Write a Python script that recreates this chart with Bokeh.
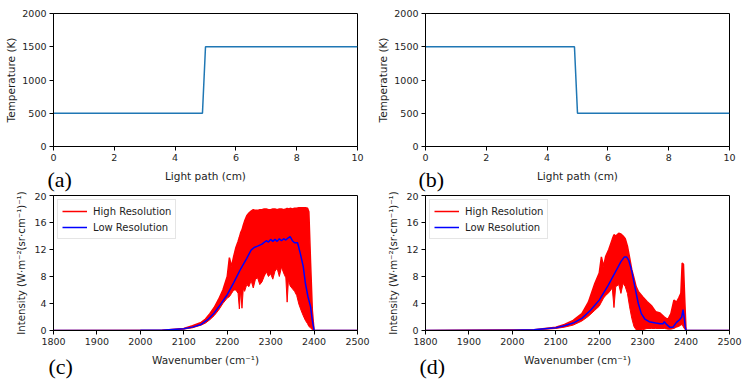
from bokeh.plotting import figure
from bokeh.models import Range1d, FixedTicker, Legend, LegendItem, Title
from bokeh.layouts import column, row
from bokeh.embed import file_html
from bokeh.resources import INLINE

# ---------------- data ----------------
# temperature profiles along the light path
path_a = [0, 4.9, 5.0, 10]
temp_a = [500, 500, 1500, 1500]
path_b = [0, 4.9, 5.0, 10]
temp_b = [1500, 1500, 500, 500]

# panel (c): high-resolution envelope (upper / lower) and low-resolution curve
wn_hr_c = [1800, 2050, 2100, 2120, 2140, 2150, 2160, 2170, 2180, 2190, 2200, 2205, 2210,
           2215, 2220, 2225, 2228, 2231, 2234, 2237, 2240, 2245, 2250, 2255, 2260, 2265,
           2270, 2275, 2280, 2285, 2290, 2295, 2300, 2305, 2310, 2315, 2320, 2325, 2330,
           2335, 2338, 2341, 2345, 2350, 2355, 2360, 2365, 2370, 2375, 2380, 2385, 2388,
           2392, 2396, 2400, 2500]
hr_up_c = [0, 0.05, 0.3, 0.7, 1.2, 1.7, 2.5, 3.4, 4.6, 6.0, 8.0, 10.8, 9.5,
           11.0, 12.3, 13.2, 13.8, 14.5, 14.9, 15.6, 16.2, 17.0, 17.4, 17.7, 17.9, 17.8,
           17.8, 17.9, 17.9, 18.0, 18.0, 17.9, 17.9, 18.0, 18.0, 17.9, 18.0, 18.0, 17.9,
           18.0, 18.1, 18.0, 18.1, 18.0, 18.1, 18.1, 18.2, 18.2, 18.2, 18.2, 18.1, 17.6,
           10.0, 3.0, 0, 0]
hr_lo_c = [0, 0.03, 0.2, 0.4, 0.8, 1.1, 1.6, 2.2, 3.0, 4.0, 4.8, 5.0, 5.5,
           6.0, 6.0, 5.5, 3.2, 6.0, 3.3, 6.2, 5.8, 6.8, 6.5, 7.4, 6.3, 7.6,
           7.8, 6.8, 7.2, 8.0, 8.7, 8.0, 8.4, 7.6, 8.8, 9.2, 8.0, 9.4, 8.5,
           7.8, 4.2, 7.5, 6.6, 6.2, 5.8, 5.2, 3.9, 3.0, 2.2, 1.5, 1.0, 0.6,
           0.4, 0.1, 0, 0]
wn_lr_c = [1800, 2000, 2050, 2100, 2120, 2140, 2155, 2170, 2185, 2200, 2215, 2230, 2245,
           2255, 2262, 2270, 2280, 2290, 2295, 2300, 2305, 2310, 2315, 2320, 2325, 2330,
           2335, 2340, 2345, 2350, 2355, 2362, 2368, 2375, 2380, 2386, 2392, 2396, 2400, 2500]
lr_c = [0, 0.02, 0.05, 0.25, 0.5, 0.9, 1.6, 2.6, 3.9, 5.3, 7.1, 9.0, 10.7,
        11.9, 12.3, 12.5, 12.8, 13.3, 13.1, 13.5, 13.2, 13.5, 13.2, 13.6, 13.3, 13.6,
        13.4, 13.7, 13.9, 13.3, 13.0, 13.0, 11.5, 9.5, 7.0, 5.0, 3.5, 1.5, 0, 0]

# panel (d)
wn_hr_d = [1800, 2050, 2100, 2120, 2140, 2160, 2175, 2190, 2200, 2205, 2210, 2215, 2222,
           2230, 2234, 2238, 2245, 2250, 2255, 2260, 2265, 2270, 2275, 2280, 2285, 2290,
           2300, 2310, 2320, 2330, 2340, 2350, 2358, 2365, 2372, 2378, 2383, 2388, 2391,
           2394, 2397, 2400, 2500]
hr_up_d = [0, 0.1, 0.5, 0.9, 1.5, 2.5, 4.2, 7.0, 8.5, 10.9, 9.5, 11.0, 12.0,
           13.5, 14.2, 14.0, 14.4, 14.3, 14.0, 13.6, 12.5, 10.8, 9.0, 7.8, 6.5, 5.8,
           5.0, 4.3, 3.7, 2.8, 2.6, 2.0, 1.6, 2.5, 4.5, 4.2, 4.8, 5.5, 10.0,
           9.8, 4.5, 0, 0]
hr_lo_d = [0, 0.05, 0.3, 0.5, 0.8, 1.4, 2.1, 3.0, 3.6, 4.2, 4.8, 5.2, 5.6,
           6.3, 3.4, 6.5, 6.8, 5.5, 7.0, 6.5, 5.5, 3.5, 1.8, 0.6, 0.1, 0.0,
           0.1, 0.3, 0.3, 0.3, 0.3, 0.3, 0.2, 0.2, 0.3, 0.5, 0.6, 0.8, 0.9,
           0.5, 0.2, 0, 0]
wn_lr_d = [1800, 2000, 2050, 2100, 2120, 2140, 2160, 2180, 2200, 2220, 2240, 2250, 2258,
           2263, 2268, 2275, 2282, 2290, 2297, 2305, 2315, 2330, 2340, 2347, 2350, 2355,
           2362, 2370, 2378, 2385, 2390, 2393, 2396, 2398, 2400, 2500]
lr_d = [0, 0.03, 0.1, 0.4, 0.7, 1.1, 1.8, 3.0, 4.5, 6.6, 9.0, 10.2, 10.9,
        10.9, 10.4, 8.8, 6.5, 4.0, 2.5, 1.7, 1.3, 1.1, 1.0, 1.0, 1.3, 0.9,
        0.5, 0.5, 1.2, 1.6, 2.0, 3.1, 1.8, 0.6, 0, 0]

temp_xticks = [0, 2, 4, 6, 8, 10]
temp_yticks = [0, 500, 1000, 1500, 2000]
wn_xticks = [1800, 1900, 2000, 2100, 2200, 2300, 2400, 2500]
int_yticks = [0, 4, 8, 12, 16, 20]

TXT = "#1e1e1e"
FONT = "DejaVu Sans"


def make_fig(xr, yr, xticks, yticks, xlabel, ylabel, left, right, top, bottom, fh,
             ylab_standoff, ylab_size="10.5px"):
    p = figure(frame_width=304, frame_height=fh, x_range=Range1d(*xr), y_range=Range1d(*yr),
               output_backend="svg", toolbar_location=None,
               min_border_left=left, min_border_right=right,
               min_border_top=top, min_border_bottom=bottom)
    p.xgrid.visible = False
    p.ygrid.visible = False
    p.outline_line_color = "black"
    p.outline_line_alpha = 1
    p.outline_line_width = 1
    p.background_fill_color = "white"
    p.border_fill_color = "white"
    p.xaxis.ticker = FixedTicker(ticks=xticks)
    p.yaxis.ticker = FixedTicker(ticks=yticks)
    p.xaxis.axis_label = xlabel
    p.yaxis.axis_label = ylabel
    for ax in (p.xaxis[0], p.yaxis[0]):
        ax.major_tick_out = 4
        ax.major_tick_in = 0
        ax.minor_tick_out = 0
        ax.minor_tick_in = 0
        ax.axis_line_color = "black"
        ax.major_tick_line_color = "black"
        ax.major_label_text_font = FONT
        ax.major_label_text_font_size = "9.5px"
        ax.major_label_text_color = TXT
        ax.major_label_standoff = 3
        ax.axis_label_text_font = FONT
        ax.axis_label_text_font_size = "10.5px"
        ax.axis_label_text_font_style = "normal"
        ax.axis_label_text_color = TXT
    p.yaxis.axis_label_text_font_size = ylab_size
    p.xaxis.axis_label_standoff = 6
    p.yaxis.axis_label_standoff = ylab_standoff
    return p


def panel_label(p, dx, standoff, text):
    # panel letter drawn in the lower side panel, pulled up beside the axis label
    p.add_layout(Title(text=text, align="left", vertical_align="top", offset=dx,
                       standoff=standoff, text_font="Liberation Serif",
                       text_font_size="22px", text_font_style="normal",
                       text_color="black"), "below")


# (a)
pa = make_fig((0, 10), (0, 2000), temp_xticks, temp_yticks, "Light path (cm)",
              "Temperature (K)", 53, 17, 13, 46, 133, 2)
pa.line(path_a, temp_a, line_color="#1f77b4", line_width=1.5)
panel_label(pa, -6, -35, "(a)")

# (b)
pb = make_fig((0, 10), (0, 2000), temp_xticks, temp_yticks, "Light path (cm)",
              "Temperature (K)", 51, 19, 13, 46, 133, 2)
pb.line(path_b, temp_b, line_color="#1f77b4", line_width=1.5)
panel_label(pb, -7, -35, "(b)")

ILAB = "Intensity (W\u00b7m\u207b\u00b2(sr\u00b7cm\u207b\u00b9)\u207b\u00b9)"
WLAB = "Wavenumber (cm\u207b\u00b9)"


def spectrum(p, wh, up, lo, wl, lr):
    p.varea(x=wh, y1=lo, y2=up, fill_color="red", fill_alpha=1)
    r_hi = p.line(wh, up, line_color="red", line_width=1.5)
    p.line(wh, lo, line_color="red", line_width=1)
    r_lo = p.line(wl, lr, line_color="blue", line_width=1.5)
    leg = Legend(items=[LegendItem(label="High Resolution", renderers=[r_hi]),
                        LegendItem(label="Low Resolution", renderers=[r_lo])],
                 location="top_left")
    leg.margin = 4
    leg.padding = 4
    leg.spacing = 2
    leg.glyph_width = 25
    leg.glyph_height = 14
    leg.label_height = 14
    leg.label_standoff = 6
    leg.label_text_font = FONT
    leg.label_text_font_size = "10px"
    leg.label_text_color = TXT
    leg.border_line_color = "#cccccc"
    leg.border_line_width = 1
    leg.background_fill_alpha = 0.8
    p.add_layout(leg)


# (c)
pc = make_fig((1800, 2500), (0, 20), wn_xticks, int_yticks, WLAB, ILAB, 53, 17, 3, 57, 135, 4,
              "10.2px")
spectrum(pc, wn_hr_c, hr_up_c, hr_lo_c, wn_lr_c, lr_c)
panel_label(pc, -5, -30, "(c)")

# (d)
pd_ = make_fig((1800, 2500), (0, 20), wn_xticks, int_yticks, WLAB, ILAB, 51, 19, 3, 57, 135, 4,
               "10.2px")
spectrum(pd_, wn_hr_d, hr_up_d, hr_lo_d, wn_lr_d, lr_d)
panel_label(pd_, -6, -30, "(d)")

layout = column(row(pa, pb), row(pc, pd_))

with open("out.html", "w") as f:
    f.write(file_html(layout, INLINE))
